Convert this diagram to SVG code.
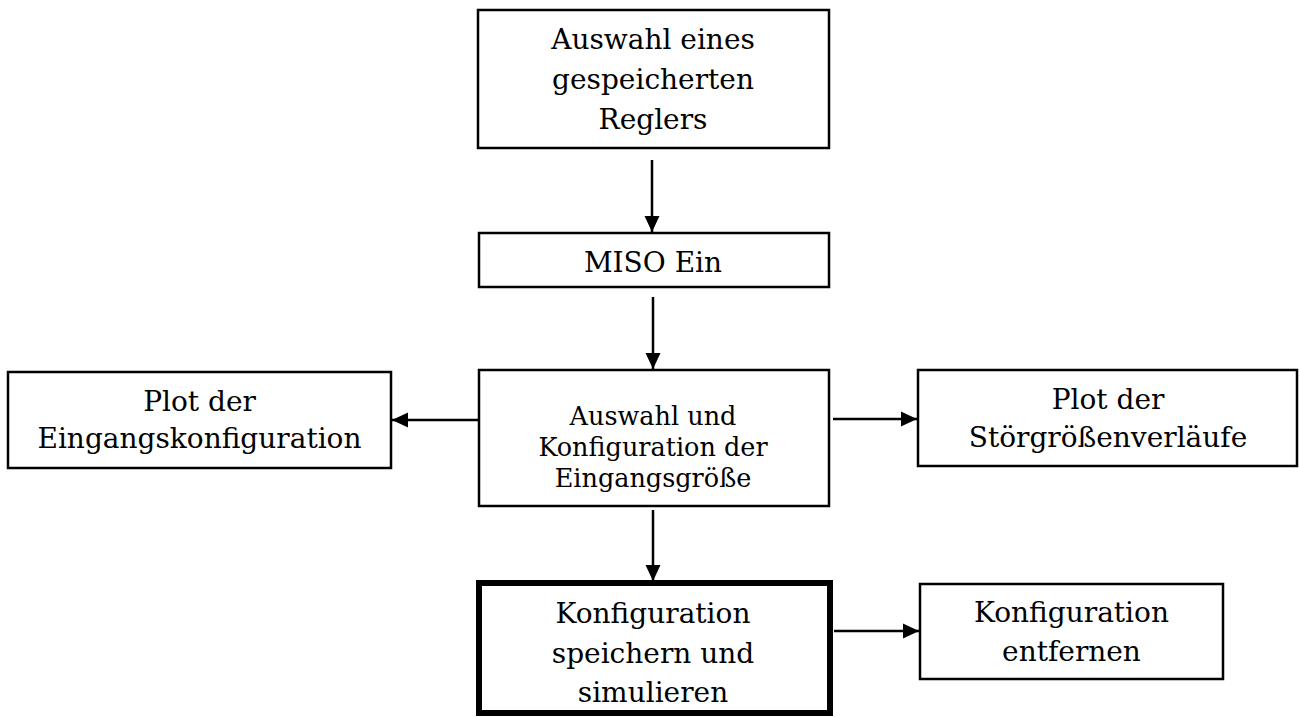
<svg xmlns="http://www.w3.org/2000/svg" width="1299" height="717" viewBox="0 0 1299 717">
<style>
.box{fill:#fff;stroke:#000;stroke-width:2.5}
.bold{fill:#fff;stroke:#000;stroke-width:6}
.t{font-family:"DejaVu Serif","Liberation Serif",serif;font-size:28px;fill:#000;text-anchor:middle}
.s{font-size:25.5px}
.c{stroke:#000;stroke-width:2.5;fill:none;marker-end:url(#ah)}
</style>
<defs>
<marker id="ah" markerUnits="userSpaceOnUse" markerWidth="18" markerHeight="18" viewBox="0 0 18 18" refX="16" refY="9" orient="auto">
<path d="M0,1.5 L16,9 L0,16.5 Z" fill="#000"/>
</marker>
</defs>
<g id="n1"><rect class="box" x="478" y="10" width="351" height="138"/>
<text class="t" x="653" y="49">Auswahl eines</text>
<text class="t" x="653" y="89">gespeicherten</text>
<text class="t" x="653" y="129">Reglers</text></g>
<g id="n2"><rect class="box" x="479" y="233" width="350" height="54"/>
<text class="t" x="653" y="272">MISO Ein</text></g>
<g id="n3"><rect class="box" x="479" y="370" width="350" height="136"/>
<text class="t s" x="653" y="425">Auswahl und</text>
<text class="t s" x="653" y="456">Konfiguration der</text>
<text class="t s" x="653" y="487">Eingangsgröße</text></g>
<g id="n4"><rect class="box" x="8" y="372" width="383" height="96"/>
<text class="t" x="199.5" y="411">Plot der</text>
<text class="t" x="199.5" y="448">Eingangskonfiguration</text></g>
<g id="n5"><rect class="box" x="918" y="370" width="379" height="96"/>
<text class="t" x="1108" y="409">Plot der</text>
<text class="t" x="1108" y="447">Störgrößenverläufe</text></g>
<g id="n6"><rect class="bold" x="479" y="583" width="351" height="130"/>
<text class="t" x="653" y="623">Konfiguration</text>
<text class="t" x="653" y="663">speichern und</text>
<text class="t" x="653" y="702">simulieren</text></g>
<g id="n7"><rect class="box" x="920" y="584" width="303" height="95"/>
<text class="t" x="1071.5" y="622">Konfiguration</text>
<text class="t" x="1071.5" y="661">entfernen</text></g>
<g id="connectors">
<line class="c" x1="652" y1="160" x2="652" y2="232"/>
<line class="c" x1="653" y1="297" x2="653" y2="369"/>
<line class="c" x1="478" y1="420" x2="392" y2="420"/>
<line class="c" x1="833" y1="419" x2="917" y2="419"/>
<line class="c" x1="653" y1="510" x2="653" y2="581"/>
<line class="c" x1="834" y1="631" x2="919" y2="631"/>
</g>
</svg>
